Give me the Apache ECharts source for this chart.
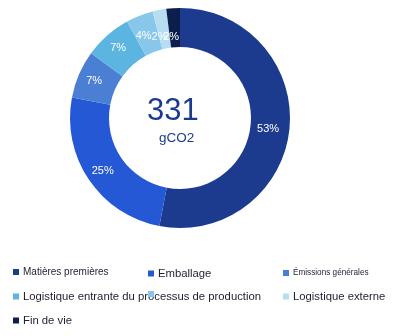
<!DOCTYPE html>
<html>
<head>
<meta charset="utf-8">
<script src="https://cdn.jsdelivr.net/npm/echarts@6/dist/echarts.min.js"></script>
<style>
  html, body { margin: 0; padding: 0; background: #ffffff; }
  #chart { width: 405px; height: 336px; }
</style>
</head>
<body>
<div id="chart"></div>
<script>
// Carbon footprint breakdown (share of total, %)
const categories = [
  'Matières premières',
  'Emballage',
  'Émissions générales',
  'Logistique entrante du processus de production',
  'Processus de production',
  'Logistique externe',
  'Fin de vie'
];
const shares = [53, 25, 7, 7, 4, 2, 2];
const totalValue = '331';
const totalUnit = 'gCO2';

const colors = ['#1c3b8e', '#2558d4', '#4b7fd3', '#5bb5e0', '#88c7ea', '#b7ddf0', '#0c1e4b'];

// Small nudges for slice labels so the narrow slices' labels line up in one row
const labelOffsets = [[-5, 2], [0, 0], [0, 0], [0, 0], [-2, 5], [-3, 11], [-3, 12]];

// Legend layout: one legend block per entry so each can sit on its own grid slot
const legendSlots = [
  { left: 13,  top: 267, fontSize: 10 },
  { left: 148, top: 268, fontSize: 11.3 },
  { left: 283, top: 269, fontSize: 8.2 },
  { left: 13,  top: 291, fontSize: 11.3 },
  { left: 148, top: 291, fontSize: 11.3, hideText: true },
  { left: 283, top: 291, fontSize: 11.3 },
  { left: 13,  top: 315, fontSize: 11.3 }
];

const chart = echarts.init(document.getElementById('chart'), null, { renderer: 'canvas' });

const legends = categories.map((name, i) => {
  const slot = legendSlots[i];
  return {
    data: [name],
    left: slot.left,
    top: slot.top,
    padding: 0,
    icon: 'rect',
    itemWidth: 6,
    itemHeight: 6,
    selectedMode: false,
    formatter: slot.hideText ? () => '' : '{name}',
    textStyle: {
      fontFamily: 'Liberation Sans, Arial, sans-serif',
      fontSize: slot.fontSize,
      color: '#1d1f33',
      padding: [0, 0, 0, -1]
    }
  };
});

chart.setOption({
  animation: false,
  color: colors,
  legend: legends,
  graphic: [
    {
      type: 'text',
      left: 147,
      top: 96,
      style: {
        text: totalValue,
        fontFamily: 'Liberation Sans, Arial, sans-serif',
        fontSize: 31,
        fill: '#1c3b8e'
      }
    },
    {
      type: 'text',
      left: 159,
      top: 131,
      style: {
        text: totalUnit,
        fontFamily: 'Liberation Sans, Arial, sans-serif',
        fontSize: 13.5,
        fill: '#1c3b8e'
      }
    }
  ],
  series: [{
    type: 'pie',
    center: [180, 118],
    radius: [71, 110],
    startAngle: 90,
    clockwise: true,
    avoidLabelOverlap: false,
    labelLayout: { hideOverlap: false },
    label: {
      show: true,
      position: 'inside',
      formatter: '{c}%',
      color: '#ffffff',
      fontFamily: 'Liberation Sans, Arial, sans-serif',
      fontSize: 11
    },
    labelLine: { show: false },
    emphasis: { disabled: true },
    itemStyle: { borderWidth: 0 },
    data: categories.map((name, i) => ({
      name,
      value: shares[i],
      label: { offset: labelOffsets[i] }
    }))
  }]
});
</script>
</body>
</html>
